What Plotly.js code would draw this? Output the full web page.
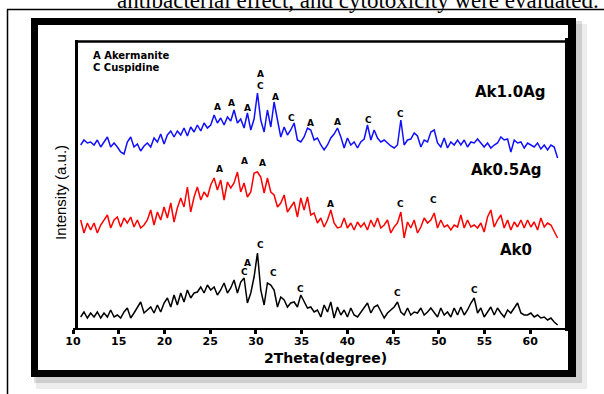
<!DOCTYPE html>
<html>
<head>
<meta charset="utf-8">
<script src="https://cdn.plot.ly/plotly-3.0.1.min.js"></script>
<style>html,body{margin:0;padding:0;background:#fff;}#chart{width:604px;height:394px;}</style>
</head>
<body>
<div id="chart"></div>
<script>
// 2Theta grid (degree)
const twoTheta = [10.84,11.20,11.57,11.93,12.30,12.66,13.03,13.39,13.76,14.12,
14.49,14.85,15.21,15.58,15.94,16.31,16.67,17.04,17.40,17.77,
18.13,18.50,18.86,19.23,19.59,19.96,20.32,20.69,21.05,21.41,
21.78,22.14,22.51,22.87,23.24,23.60,23.97,24.33,24.70,25.06,
25.43,25.79,26.15,26.52,26.89,27.25,27.61,27.98,28.34,28.71,
29.07,29.44,29.80,30.17,30.53,30.90,31.26,31.63,31.99,32.36,
32.72,33.09,33.45,33.81,34.18,34.54,34.91,35.27,35.64,36.00,
36.37,36.73,37.10,37.46,37.83,38.19,38.55,38.92,39.29,39.65,
40.01,40.38,40.74,41.11,41.47,41.84,42.20,42.57,42.93,43.30,
43.66,44.03,44.39,44.75,45.12,45.48,45.85,46.21,46.58,46.94,
47.31,47.67,48.04,48.40,48.77,49.13,49.50,49.86,50.22,50.59,
50.95,51.32,51.68,52.05,52.41,52.78,53.14,53.51,53.87,54.24,
54.60,54.96,55.33,55.69,56.06,56.42,56.79,57.15,57.52,57.88,
58.25,58.61,58.98,59.34,59.71,60.07,60.43,60.80,61.16,61.53,
61.89,62.26,62.62,62.99];

// Intensity (a.u., stacked offsets as in the figure)
const ak10Ag = [183,188,185,186,183,188,181,186,191,181,
185,181,176,174,186,191,181,184,177,182,
185,181,190,186,194,184,193,197,191,197,
193,200,192,201,196,203,197,205,200,203,
213,205,210,203,211,207,218,205,209,200,
215,198,209,235,208,196,218,201,226,208,
191,201,193,198,205,188,186,191,200,198,
188,190,183,178,183,190,194,200,191,180,
190,183,186,180,186,189,203,188,198,190,
186,188,185,182,180,183,208,183,188,189,
195,192,181,188,186,196,198,185,181,190,
180,186,183,188,183,188,181,186,185,189,
185,181,185,180,183,185,191,188,189,176,
188,185,186,180,185,183,181,185,179,183,
178,183,181,170];

const ak05Ag = [108,95,105,98,105,95,103,108,113,100,
108,111,101,110,105,111,101,108,100,103,
108,118,103,116,108,121,110,125,106,120,
130,121,141,116,131,141,128,136,131,143,
150,138,148,128,146,140,145,156,136,145,
131,136,155,156,151,135,150,136,133,121,
125,133,116,121,126,111,130,118,131,113,
115,105,110,101,108,118,105,100,101,110,
100,105,98,106,101,105,98,108,101,110,
100,103,108,95,101,105,116,90,106,100,
108,95,101,110,105,108,115,100,108,101,
103,98,103,101,113,100,108,101,103,100,
105,96,111,118,101,108,113,100,108,98,
106,101,108,100,108,101,106,98,110,101,
105,103,96,90];

const ak0 = [11,16,10,15,11,16,10,15,11,18,
11,13,10,16,20,10,15,21,26,15,
18,21,15,23,16,25,30,21,33,23,
35,26,38,30,35,36,41,35,43,38,
41,33,38,45,35,40,48,35,46,50,
25,35,51,75,38,23,45,43,38,21,
31,28,21,25,26,21,33,26,20,21,
16,18,11,23,16,26,10,21,13,18,
11,20,13,11,16,20,25,15,21,23,
16,10,15,18,21,26,16,13,20,13,
16,15,20,13,16,20,15,11,20,13,
16,11,20,13,21,13,18,25,30,15,
20,11,16,21,13,20,15,11,18,15,
20,25,15,13,13,15,11,13,10,11,
8,10,6,3];

const seriesNames = ['Ak1.0Ag', 'Ak0.5Ag', 'Ak0'];
const seriesLabelX = [57.79, 57.35, 58.44];
const seriesLabelY = [236, 158, 78];

const phaseKey = ['A Akermanite', 'C Cuspidine'];

// Peak phase labels
const blueLblText = ['A','A','A','A','C','A','C','A','A','C','C'];
const blueLblX = [25.75,27.28,29.03,30.45,30.45,32.09,33.84,35.92,38.87,42.26,45.76];
const blueLblY = [221,225,220,254,242,231,210,205,206,208,214];
const redLblText = ['A','A','A','A','C','C'];
const redLblX = [25.97,28.70,30.67,38.21,45.76,49.47];
const redLblY = [159,167,165,124,124,128];
const blackLblText = ['C','A','C','C','C','C','C'];
const blackLblX = [30.45,29.03,28.70,31.87,34.93,45.43,53.85];
const blackLblY = [83,65,56,55,39,35,38];

const xTitle = '2Theta(degree)';
const yTitle = 'Intensity (a.u.)';
const pageText = 'antibacterial effect, and cytotoxicity were evaluated.';

// ---- drawing ----
const L = 73, R = 565, T = 40, B = 328;
const PX = x => (x - L) / (R - L);
const PY = y => (B - y) / (B - T);

const traces = [
  {x: twoTheta, y: ak10Ag, name: seriesNames[0], type: 'scatter', mode: 'lines', line: {color: '#1010ff', width: 1.5}},
  {x: twoTheta, y: ak05Ag, name: seriesNames[1], type: 'scatter', mode: 'lines', line: {color: '#ff0000', width: 1.5}},
  {x: twoTheta, y: ak0, name: seriesNames[2], type: 'scatter', mode: 'lines', line: {color: '#000000', width: 1.5}}
];

function rect(x0, y0, x1, y1, fill) {
  return {type: 'rect', xref: 'paper', yref: 'paper', x0: PX(x0), x1: PX(x1), y0: PY(y1), y1: PY(y0),
          fillcolor: fill, line: {width: 0}, layer: 'below'};
}
function seg(x0, y0, x1, y1, w) {
  return {type: 'line', xref: 'paper', yref: 'paper', x0: PX(x0), x1: PX(x1), y0: PY(y0), y1: PY(y1),
          line: {color: '#000', width: w}, layer: 'below'};
}
const shapes = [
  seg(7, 9.5, 604, 9.5, 1.5),
  seg(7.5, 9.5, 7.5, 394, 1.5),
  rect(36, 24, 587, 389, 'rgba(0,0,0,0.07)'),
  rect(34, 21, 582, 383, 'rgba(0,0,0,0.13)'),
  rect(31, 18, 576, 377, '#000'),
  rect(38, 25, 568, 370, '#fff'),
  rect(565, 38, 568, 331, '#000'),
  seg(75, 41.5, 566, 41.5, 2.5),
  seg(76.5, 40, 76.5, 329, 3)
];

const bold = {family: 'DejaVu Sans, Verdana, sans-serif', color: '#000', weight: 'bold'};
const annotations = [];
function addLabels(txt, xs, ys) {
  for (let i = 0; i < txt.length; i++) {
    annotations.push({x: xs[i], y: ys[i], xref: 'x', yref: 'y', text: txt[i], showarrow: false,
      font: Object.assign({}, bold, {size: 9}), xanchor: 'center', yanchor: 'middle'});
  }
}
addLabels(blueLblText, blueLblX, blueLblY);
addLabels(redLblText, redLblX, redLblY);
addLabels(blackLblText, blackLblX, blackLblY);
for (let i = 0; i < seriesNames.length; i++) {
  annotations.push({x: seriesLabelX[i], y: seriesLabelY[i], xref: 'x', yref: 'y', text: seriesNames[i],
    showarrow: false, font: Object.assign({}, bold, {size: 15}), xanchor: 'center', yanchor: 'middle'});
}
annotations.push({x: PX(91), y: PY(55), xref: 'paper', yref: 'paper', text: phaseKey[0], showarrow: false,
  font: Object.assign({}, bold, {size: 10}), xanchor: 'left', yanchor: 'middle'});
annotations.push({x: PX(91), y: PY(67), xref: 'paper', yref: 'paper', text: phaseKey[1], showarrow: false,
  font: Object.assign({}, bold, {size: 10}), xanchor: 'left', yanchor: 'middle'});
annotations.push({x: PX(325), y: PY(358), xref: 'paper', yref: 'paper', text: xTitle, showarrow: false,
  font: Object.assign({}, bold, {size: 14}), xanchor: 'center', yanchor: 'middle'});
annotations.push({x: PX(60), y: PY(193), xref: 'paper', yref: 'paper', text: yTitle, showarrow: false, textangle: -90,
  font: {family: 'Liberation Sans Narrow, Arial Narrow, Liberation Sans, sans-serif', size: 15, color: '#000'},
  xanchor: 'center', yanchor: 'middle'});
annotations.push({x: PX(601), y: PY(0), xref: 'paper', yref: 'paper', text: pageText, showarrow: false,
  font: {family: 'Liberation Serif, Times New Roman, serif', size: 23, color: '#000'},
  xanchor: 'right', yanchor: 'middle'});

const layout = {
  width: 604, height: 394,
  margin: {l: L, r: 604 - R, t: T, b: 394 - B},
  paper_bgcolor: '#fff', plot_bgcolor: 'rgba(0,0,0,0)',
  showlegend: false,
  xaxis: {range: [10, 63.8], tick0: 10, dtick: 5, showgrid: false, zeroline: false,
    showline: true, linecolor: '#000', linewidth: 2, ticks: 'outside', ticklen: 4, tickwidth: 3, tickcolor: '#000',
    ticklabelstandoff: -2,
    tickfont: Object.assign({}, bold, {size: 11}), fixedrange: true},
  yaxis: {range: [0, 288], showgrid: false, zeroline: false, showline: false, showticklabels: false, ticks: '', fixedrange: true},
  shapes: shapes,
  annotations: annotations
};

Plotly.newPlot('chart', traces, layout, {displayModeBar: false, staticPlot: true});
</script>
</body>
</html>
